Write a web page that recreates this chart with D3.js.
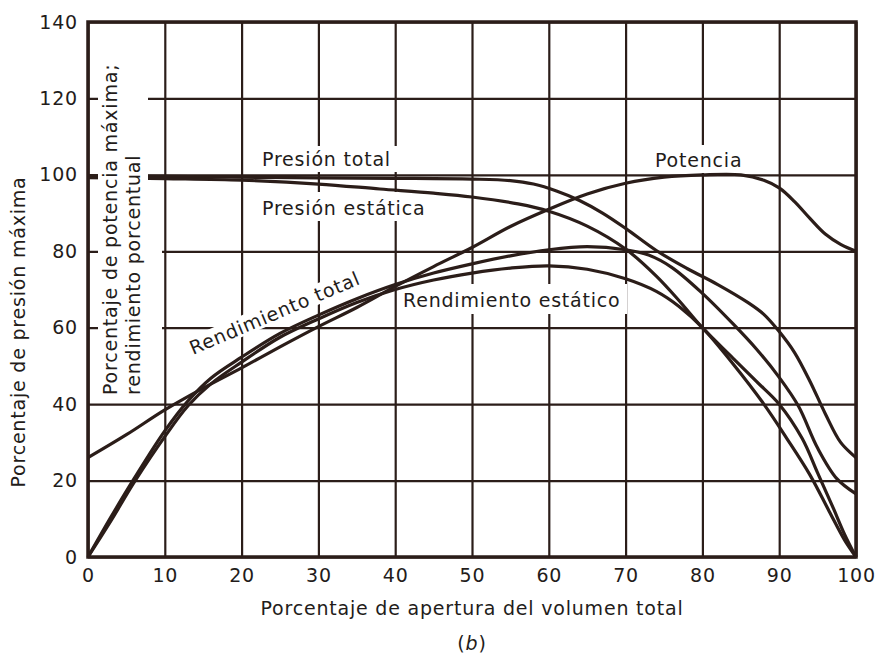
<!DOCTYPE html>
<html>
<head>
<meta charset="utf-8">
<script src="https://cdn.jsdelivr.net/npm/d3@7/dist/d3.min.js"></script>
<style>
  body { margin: 0; background: #fff; }
  text { font-family: "DejaVu Sans", sans-serif; fill: #231c1a; letter-spacing: 0.8px; }
</style>
</head>
<body>
<svg id="chart" width="879" height="658"></svg>
<script>
// ticks
const xTicks = [0, 10, 20, 30, 40, 50, 60, 70, 80, 90, 100];
const yTicks = [0, 20, 40, 60, 80, 100, 120, 140];

// curves, [% apertura, %]
const presionTotal = [[0,99.8],[10,99.6],[20,99.4],[30,99.2],[40,99.1],[50,98.9],[55,98.5],[58,97.6],[61,95.8],[64,93.3],[67,90],[70,86],[74,80.2],[78,75.5],[82,71.3],[86,66.5],[88,63.5],[90,59],[92,53.5],[94,46],[96,37.5],[98,30],[100,26]];
const presionEstatica = [[0,99.3],[10,99],[20,98.6],[30,97.6],[38,96.3],[45,95.2],[50,94.2],[56,92.4],[60,90.5],[65,86.6],[70,80.6],[74,73.5],[77,67],[80,60],[84,52],[87,46],[90,40],[93,31],[95,22],[97,13],[98.5,6],[100,0]];
const potencia = [[0,26],[5,32],[10,38.5],[15,44.2],[20,49.5],[25,55],[30,60.3],[35,65.3],[40,70.8],[45,76],[50,81],[55,86.5],[60,91],[65,95],[70,97.8],[75,99.4],[80,100],[85,100],[88,98.6],[90,96.6],[92,93],[94,88.6],[96,84.5],[98,81.8],[100,80]];
const rendimientoTotal = [[0,0],[3,10.5],[6,20.5],[10,33],[13,40.8],[16,46.8],[20,52.3],[25,58.5],[30,63.3],[35,67.6],[40,71.3],[45,74.3],[50,76.7],[55,78.8],[60,80.4],[65,81.2],[70,80.4],[73,79],[76,75.8],[80,69],[84,61],[87,54.5],[90,47],[92.5,39.5],[95,28.5],[97.5,20.5],[100,16.5]];
const rendimientoEstatico = [[0,0],[3,9.5],[6,19.5],[10,31.5],[13,39.5],[16,45.3],[20,51],[25,57.5],[30,62.3],[35,66.6],[40,70],[45,72.5],[50,74.3],[55,75.6],[60,76.2],[65,75.3],[70,72.8],[74,69.5],[77,65.5],[80,60],[84,50.5],[88,40],[91,31],[94,21.5],[96.5,12],[98.5,4.5],[100,0]];

const ink = "#2b1d19";
const svg = d3.select("#chart");

const x = d3.scaleLinear().domain([0, 100]).range([88, 856]);
const y = d3.scaleLinear().domain([0, 140]).range([557, 22]);

// grid + tick labels
const gx = svg.append("g")
    .attr("transform", `translate(0,${y(0)})`)
    .call(d3.axisBottom(x).tickValues(xTicks).tickSize(-(y(0) - y(140))).tickPadding(12).tickFormat(d3.format("d")));
const gy = svg.append("g")
    .attr("transform", `translate(${x(0)},0)`)
    .call(d3.axisLeft(y).tickValues(yTicks).tickSize(-(x(100) - x(0))).tickPadding(10).tickFormat(d3.format("d")));
[gx, gy].forEach(g => {
    g.select(".domain").remove();
    g.selectAll(".tick line").attr("stroke", ink).attr("stroke-width", 2.2);
    g.selectAll(".tick text").attr("font-size", 19).attr("fill", "#231c1a").style("font-family", '"DejaVu Sans", sans-serif');
});

// white boxes behind the labels that sit on the grid
const masks = svg.append("g").attr("fill", "#fff");
masks.append("rect").attr("x", 258).attr("y", 146).attr("width", 140).attr("height", 26);
masks.append("rect").attr("x", 258).attr("y", 192).attr("width", 176).attr("height", 29);
masks.append("rect").attr("x", 650).attr("y", 145).attr("width", 98).attr("height", 28);
masks.append("rect").attr("x", 399).attr("y", 284).attr("width", 228).attr("height", 30);
masks.append("g")
    .attr("transform", "translate(192,355) rotate(-23)")
    .append("rect").attr("x", -3).attr("y", -17).attr("width", 190).attr("height", 20);

// curves
const line = d3.line()
    .x(d => x(d[0]))
    .y(d => y(d[1]))
    .curve(d3.curveCatmullRom.alpha(0.5));

[presionTotal, presionEstatica, potencia, rendimientoTotal, rendimientoEstatico].forEach(s => {
    svg.append("path")
        .datum(s)
        .attr("d", line)
        .attr("fill", "none")
        .attr("stroke", ink)
        .attr("stroke-width", 3.2)
        .attr("stroke-linejoin", "round");
});

// box behind the inner vertical title (hides grid and curves there)
svg.append("rect").attr("x", 98).attr("y", 58).attr("width", 50).attr("height", 341).attr("fill", "#fff");
svg.append("rect").attr("x", 98).attr("y", 232).attr("width", 64).attr("height", 167).attr("fill", "#fff");

// frame
svg.append("rect")
    .attr("x", x(0)).attr("y", y(140))
    .attr("width", x(100) - x(0)).attr("height", y(0) - y(140))
    .attr("fill", "none").attr("stroke", ink).attr("stroke-width", 3.5);

// labels
const label = (t, px, py, size) => svg.append("text").attr("x", px).attr("y", py).attr("font-size", size || 19).text(t);

label("Presión total", 262, 166);
label("Presión estática", 262, 215);
label("Potencia", 655, 167);
label("Rendimiento estático", 403, 307);
svg.append("text")
    .attr("transform", "translate(193,355) rotate(-23)")
    .attr("font-size", 19)
    .text("Rendimiento total");

svg.append("text")
    .attr("transform", "translate(117,395) rotate(-90)")
    .attr("font-size", 19)
    .text("Porcentaje de potencia máxima;");
svg.append("text")
    .attr("transform", "translate(140,395) rotate(-90)")
    .attr("font-size", 19)
    .text("rendimiento porcentual");

svg.append("text")
    .attr("transform", "translate(25,332) rotate(-90)")
    .attr("text-anchor", "middle")
    .attr("font-size", 19)
    .text("Porcentaje de presión máxima");

svg.append("text")
    .attr("x", 472).attr("y", 615)
    .attr("text-anchor", "middle")
    .attr("font-size", 19)
    .text("Porcentaje de apertura del volumen total");

const b = svg.append("text")
    .attr("x", 472).attr("y", 650)
    .attr("text-anchor", "middle")
    .attr("font-size", 19);
b.append("tspan").text("(");
b.append("tspan").attr("font-style", "italic").text("b");
b.append("tspan").text(")");
</script>
</body>
</html>
